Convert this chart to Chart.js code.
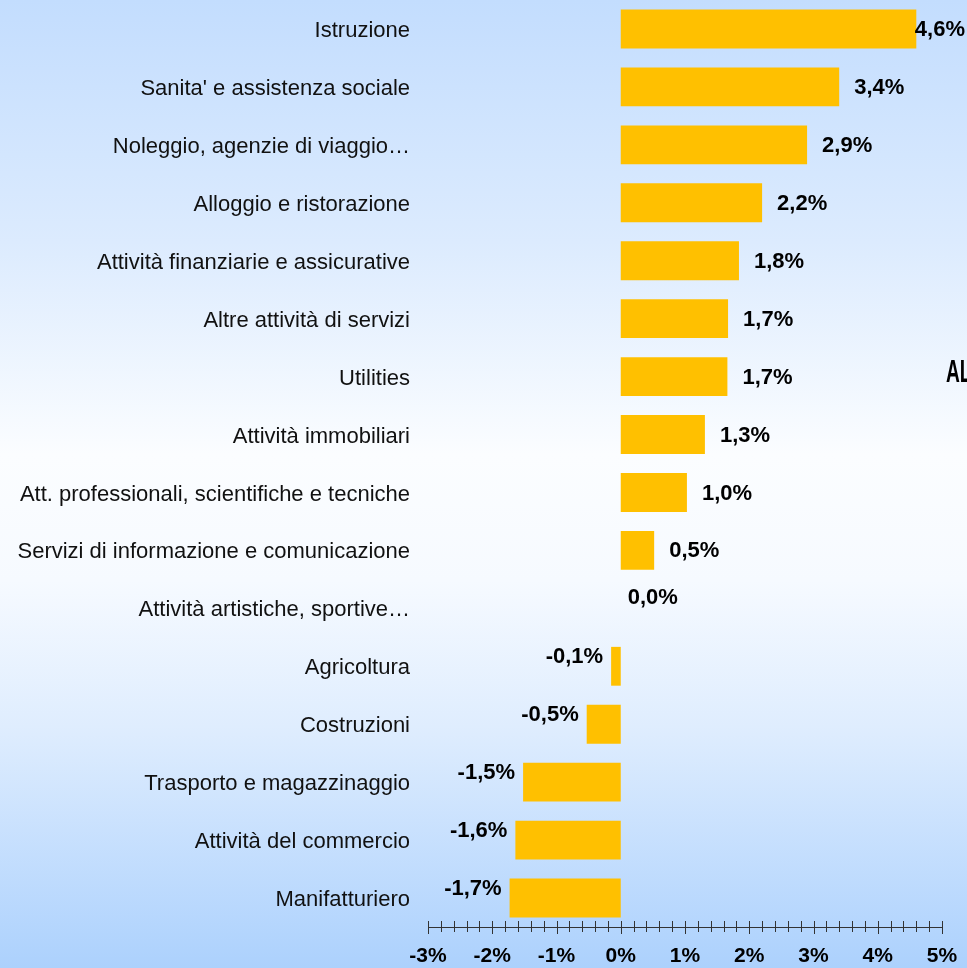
<!DOCTYPE html>
<html><head><meta charset="utf-8">
<script src="https://cdn.jsdelivr.net/npm/chart.js@4/dist/chart.umd.min.js"></script>
<style>html,body{margin:0;padding:0;overflow:hidden;background:#fff}#wrap{width:967px;height:968px}</style>
</head><body><div id="wrap"><canvas id="c" width="967" height="968"></canvas></div>
<script>
const categories = [
  "Istruzione",
  "Sanita' e assistenza sociale",
  "Noleggio, agenzie di viaggio…",
  "Alloggio e ristorazione",
  "Attività finanziarie e assicurative",
  "Altre attività di servizi",
  "Utilities",
  "Attività immobiliari",
  "Att. professionali, scientifiche e tecniche",
  "Servizi di informazione e comunicazione",
  "Attività artistiche, sportive…",
  "Agricoltura",
  "Costruzioni",
  "Trasporto e magazzinaggio",
  "Attività del commercio",
  "Manifatturiero"
];
const values = [4.6, 3.4, 2.9, 2.2, 1.84, 1.67, 1.66, 1.31, 1.03, 0.52, 0.0, -0.15, -0.53, -1.52, -1.64, -1.73];
const valueLabels = ["4,6%", "3,4%", "2,9%", "2,2%", "1,8%", "1,7%", "1,7%", "1,3%", "1,0%", "0,5%", "0,0%", "-0,1%", "-0,5%", "-1,5%", "-1,6%", "-1,7%"];
const axisMin = -3;
const axisMax = 5;
const minorStep = 0.2;
const sideNote = "AL";

const bgPlugin = {
  id: 'bg',
  beforeDraw(chart) {
    const ctx = chart.ctx, w = chart.width, h = chart.height;
    const g = ctx.createLinearGradient(0, 0, 0, h);
    g.addColorStop(0, '#c3ddfe');
    g.addColorStop(0.25, '#dcebfe');
    g.addColorStop(0.47, '#fbfdff');
    g.addColorStop(0.6, '#f6faff');
    g.addColorStop(0.75, '#dfedfe');
    g.addColorStop(1, '#acd1fd');
    ctx.save();
    ctx.fillStyle = g;
    ctx.fillRect(0, 0, w, h);
    ctx.restore();
  }
};

const ticksPlugin = {
  id: 'minorTicks',
  afterDraw(chart) {
    const xs = chart.scales.x;
    const ctx = chart.ctx;
    const y = chart.chartArea.bottom;
    ctx.save();
    ctx.strokeStyle = '#333';
    ctx.lineWidth = 1;
    const n = Math.round((axisMax - axisMin) / minorStep);
    for (let i = 0; i <= n; i++) {
      const v = axisMin + i * minorStep;
      const x = Math.round(xs.getPixelForValue(v)) + 0.5;
      const major = i % 5 === 0;
      ctx.beginPath();
      ctx.moveTo(x, y - 6);
      ctx.lineTo(x, y + (major ? 7 : 5));
      ctx.stroke();
    }
    ctx.restore();
  }
};

const labelPlugin = {
  id: 'valLabels',
  afterDatasetsDraw(chart) {
    const ctx = chart.ctx;
    const meta = chart.getDatasetMeta(0);
    ctx.save();
    ctx.font = 'bold 22px "Liberation Sans", Arial, sans-serif';
    ctx.fillStyle = '#000';
    ctx.textBaseline = 'middle';
    meta.data.forEach((el, i) => {
      const v = values[i];
      const txt = valueLabels[i];
      const tw = ctx.measureText(txt).width;
      if (v > 0) {
        let x = el.x + 15;
        if (x + tw > chart.width - 2) x = chart.width - 2 - tw;
        ctx.textAlign = 'left';
        ctx.fillText(txt, x, el.y + 1);
      } else if (v < 0) {
        ctx.textAlign = 'right';
        ctx.fillText(txt, el.x - 8, el.y - 9);
      } else {
        ctx.textAlign = 'left';
        ctx.fillText(txt, el.x + 7, el.y - 10);
      }
    });
    // side note text partially visible at right edge
    const ys = chart.scales.y;
    ctx.font = 'bold 32px "Liberation Sans", Arial, sans-serif';
    ctx.textAlign = 'left';
    ctx.translate(946, ys.getPixelForValue(6) - 3);
    ctx.scale(0.6, 1);
    ctx.fillText(sideNote, 0, 0);
    ctx.restore();
  }
};

new Chart(document.getElementById('c'), {
  type: 'bar',
  data: {
    labels: categories,
    datasets: [{
      data: values,
      backgroundColor: '#ffc000',
      borderWidth: 0,
      categoryPercentage: 1,
      barPercentage: 0.67
    }]
  },
  options: {
    indexAxis: 'y',
    responsive: false,
    animation: false,
    devicePixelRatio: 1,
    layout: { padding: { top: 0, right: 25, bottom: 0, left: 0 } },
    plugins: { legend: { display: false }, tooltip: { enabled: false } },
    scales: {
      y: {
        type: 'category',
        grid: { display: false, drawTicks: false },
        border: { display: false },
        ticks: {
          color: '#111',
          font: { family: '"Liberation Sans", Arial, sans-serif', size: 22 },
          padding: 18,
          labelOffset: 2,
          autoSkip: false
        },
        afterFit(scale) { scale.width = 428; scale.paddingTop = 0; scale.paddingBottom = 0; }
      },
      x: {
        min: axisMin,
        max: axisMax,
        grid: { display: false, drawTicks: false },
        border: { display: true, color: '#333', width: 1 },
        ticks: {
          stepSize: 1,
          color: '#000',
          font: { family: '"Liberation Sans", Arial, sans-serif', size: 21, weight: 'bold' },
          padding: 17,
          callback: v => v + '%'
        },
        afterFit(scale) { scale.height = 41; scale.paddingLeft = 0; scale.paddingRight = 0; }
      }
    }
  },
  plugins: [bgPlugin, ticksPlugin, labelPlugin]
});
</script>
</body></html>
